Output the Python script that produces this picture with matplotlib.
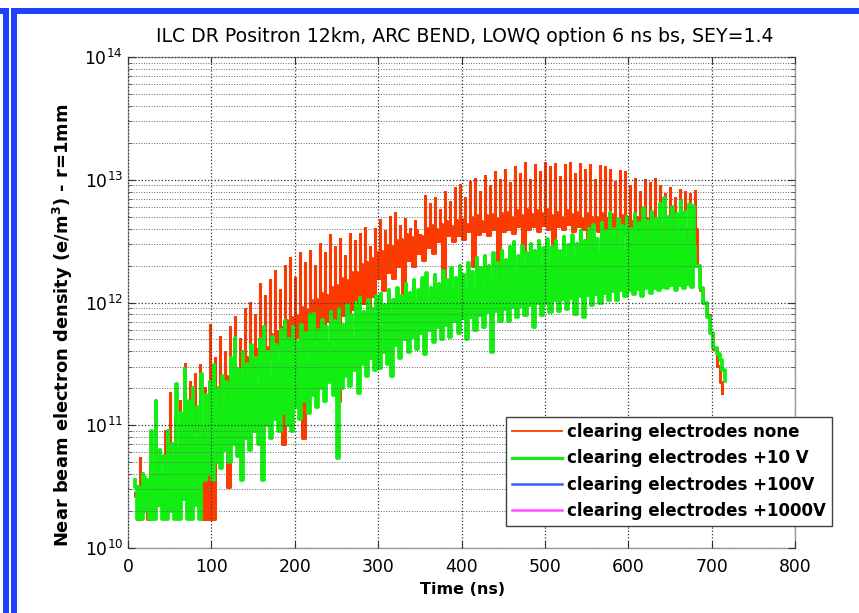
import numpy as np
import matplotlib
matplotlib.use('Agg')
import matplotlib.pyplot as plt
from matplotlib.patches import Rectangle
from matplotlib.ticker import LogLocator, NullFormatter, FixedLocator, FixedFormatter

plt.rcParams['font.family'] = ['DejaVu Sans']
plt.rcParams['mathtext.fontset'] = 'dejavusans'

# ---- data (log10 of density, e/m^3) ----
# each bunch passage: spike top (hi), then the dense band top (mid), then the trough (lo)
# "none": one spike every 6 ns from t=8
red_t0, red_dt = 8, 6
red_hi = [10.45, 10.73, 10.5, 10.68, 10.8, 10.62, 10.95, 11.26, 11.05, 11.2,
          11.5, 11.35, 11.42, 11.49, 11.3, 11.82, 11.55, 11.72, 11.6, 11.8,
          11.88, 11.7, 11.95, 12.0, 11.9, 12.15, 12.05, 12.18, 12.26, 12.1,
          12.3, 12.36, 12.2, 12.4, 12.32, 12.42, 12.3, 12.48, 12.4, 12.55,
          12.45, 12.52, 12.38, 12.56, 12.5, 12.56, 12.61, 12.45, 12.6, 12.67,
          12.58, 12.7, 12.73, 12.62, 12.68, 12.6, 12.66, 12.55, 12.87, 12.8,
          12.85, 12.75, 12.9, 12.82, 12.93, 12.96, 12.85, 12.98, 13.01, 12.9,
          13.03, 12.95, 13.06, 13.0, 13.08, 12.97, 13.1, 13.05, 13.14, 13.0,
          13.12, 13.06, 13.14, 13.1, 13.13, 13.02, 13.12, 13.14, 13.05, 13.13,
          13.08, 13.12, 13.0, 13.11, 13.1, 13.08, 12.98, 13.07, 13.06, 12.95,
          13.01, 12.9, 13.0, 12.97, 13.01, 12.95, 12.88, 12.93, 12.85, 12.92,
          12.9, 12.88, 12.91]
red_mid = [10.42, 10.5, 10.46, 10.6, 10.55, 10.62, 10.72, 10.82, 10.8, 10.95,
           10.88, 11.02, 11.05, 10.98, 11.15, 11.27, 11.3, 11.24, 11.4, 11.42,
           11.47, 11.5, 11.56, 11.55, 11.62, 11.66, 11.64, 11.74, 11.77, 11.8,
           11.86, 11.88, 11.9, 11.96, 11.95, 12.02, 12.03, 12.08, 12.06, 12.13,
           12.14, 12.2, 12.18, 12.25, 12.25, 12.31, 12.33, 12.36, 12.41, 12.42,
           12.47, 12.46, 12.51, 12.52, 12.56, 12.53, 12.59, 12.54, 12.61, 12.63,
           12.6, 12.64, 12.66, 12.62, 12.67, 12.68, 12.64, 12.7, 12.71, 12.66,
           12.71, 12.72, 12.69, 12.73, 12.74, 12.7, 12.75, 12.71, 12.76, 12.72,
           12.75, 12.73, 12.76, 12.71, 12.74, 12.7, 12.75, 12.72, 12.74, 12.69,
           12.73, 12.7, 12.7, 12.73, 12.69, 12.72, 12.67, 12.71, 12.69, 12.66,
           12.7, 12.65, 12.69, 12.64, 12.68, 12.63, 12.62, 12.66, 12.59, 12.64,
           12.6, 12.63, 12.6]
red_lo = [10.24, 10.4, 10.24, 10.5, 10.35, 10.6, 10.45, 10.7, 10.55, 10.85,
          10.7, 10.95, 10.8, 10.24, 10.24, 10.24, 11.1, 11.2, 10.5, 11.3,
          11.35, 11.25, 11.45, 11.4, 11.5, 11.45, 11.55, 11.5, 11.65, 10.85,
          11.7, 11.6, 11.72, 10.9, 11.75, 11.7, 11.8, 11.75, 11.85, 11.8,
          11.2, 11.9, 11.85, 11.95, 11.9, 12.0, 11.6, 12.05, 12.2, 12.1,
          12.25, 12.2, 12.3, 11.9, 12.35, 12.3, 12.4, 12.35, 12.45, 12.4,
          12.5, 12.05, 12.55, 12.5, 12.55, 12.52, 12.58, 12.3, 12.56, 12.58,
          12.55, 12.6, 12.2, 12.58, 12.6, 12.57, 12.62, 12.4, 12.6, 12.62,
          12.58, 12.63, 12.6, 12.45, 12.62, 12.6, 12.64, 12.58, 12.62, 12.6,
          12.35, 12.62, 12.58, 12.6, 12.56, 12.58, 12.4, 12.56, 12.55, 12.52,
          12.5, 12.54, 12.48, 12.38, 12.5, 12.45, 12.48, 12.42, 12.37, 12.44,
          12.4, 12.38, 12.3]
red_tail_t = [686, 690, 694, 698, 702, 706, 710, 713]
red_tail = [12.1, 12.0, 11.9, 11.75, 11.62, 11.48, 11.35, 11.26]

# "+10 V": one spike every 5 ns from t=8
grn_t0, grn_dt = 8, 5
grn_hi = [10.55, 10.5, 10.6, 10.55, 10.95, 11.2, 10.8, 10.75, 10.95, 10.85,
          11.34, 11.1, 11.46, 11.2, 11.3, 11.15, 11.42, 11.25, 11.35, 11.49,
          11.3, 11.4, 11.35, 11.55, 11.71, 11.45, 11.6, 11.5, 11.65, 11.55,
          11.7, 11.8, 11.6, 11.72, 11.65, 11.78, 11.85, 11.7, 11.8, 11.68,
          11.82, 11.75, 11.9, 11.91, 11.78, 11.86, 11.8, 11.92, 11.85, 11.95,
          11.82, 11.98, 11.9, 12.0, 12.04, 11.92, 12.02, 11.95, 12.05, 12.07,
          11.98, 12.1, 12.02, 12.12, 12.05, 12.15, 12.08, 12.18, 12.1, 12.2,
          12.24, 12.12, 12.22, 12.15, 12.26, 12.18, 12.28, 12.2, 12.3, 12.22,
          12.32, 12.25, 12.36, 12.28, 12.38, 12.3, 12.4, 12.32, 12.42, 12.35,
          12.45, 12.49, 12.38, 12.46, 12.4, 12.48, 12.42, 12.5, 12.44, 12.52,
          12.45, 12.5, 12.42, 12.53, 12.47, 12.55, 12.48, 12.58, 12.5, 12.6,
          12.63, 12.52, 12.65, 12.58, 12.73, 12.6, 12.68, 12.62, 12.7, 12.6,
          12.72, 12.65, 12.77, 12.66, 12.74, 12.68, 12.8, 12.85, 12.7, 12.78,
          12.72, 12.83, 12.74, 12.8, 12.79]
grn_mid = [10.5, 10.48, 10.58, 10.52, 10.62, 10.66, 10.6, 10.7, 10.74, 10.68,
           10.8, 10.86, 10.82, 10.92, 10.88, 10.96, 10.9, 11.02, 11.06, 11.1,
           11.07, 11.16, 11.18, 11.22, 11.26, 11.22, 11.3, 11.28, 11.36, 11.32,
           11.4, 11.44, 11.38, 11.46, 11.5, 11.45, 11.52, 11.54, 11.48, 11.56,
           11.58, 11.53, 11.62, 11.63, 11.58, 11.66, 11.67, 11.63, 11.7, 11.67,
           11.73, 11.76, 11.71, 11.78, 11.8, 11.75, 11.82, 11.84, 11.83, 11.87,
           11.86, 11.9, 11.86, 11.92, 11.91, 11.94, 11.95, 11.97, 11.95, 12.0,
           12.02, 11.98, 12.04, 12.04, 12.07, 12.03, 12.09, 12.09, 12.12, 12.08,
           12.14, 12.13, 12.17, 12.13, 12.19, 12.18, 12.22, 12.18, 12.24, 12.21,
           12.25, 12.26, 12.24, 12.28, 12.26, 12.3, 12.27, 12.31, 12.3, 12.33,
           12.31, 12.34, 12.31, 12.35, 12.34, 12.36, 12.34, 12.38, 12.35, 12.39,
           12.38, 12.4, 12.41, 12.38, 12.43, 12.41, 12.44, 12.42, 12.45, 12.41,
           12.45, 12.43, 12.47, 12.44, 12.46, 12.45, 12.48, 12.47, 12.45, 12.48,
           12.44, 12.47, 12.45, 12.47, 12.46]
grn_lo = [10.24, 10.24, 10.3, 10.24, 10.24, 10.35, 10.24, 10.24, 10.3, 10.24,
          10.24, 10.4, 10.24, 10.24, 10.35, 10.24, 10.55, 10.6, 10.55, 10.7,
          10.65, 10.8, 10.7, 10.85, 10.75, 10.55, 10.9, 10.8, 10.95, 10.85,
          10.55, 11.0, 10.9, 11.05, 10.95, 11.1, 11.0, 10.95, 11.15, 11.05,
          11.2, 11.1, 11.25, 11.15, 11.3, 11.2, 11.35, 11.25, 10.73, 11.3,
          11.4, 11.32, 11.45, 11.26, 11.5, 11.4, 11.55, 11.45, 11.47, 11.6,
          11.5, 11.4, 11.65, 11.55, 11.7, 11.6, 11.72, 11.62, 11.75, 11.58,
          11.78, 11.68, 11.8, 11.7, 11.82, 11.72, 11.85, 11.75, 11.87, 11.7,
          11.88, 11.78, 11.9, 11.8, 11.92, 11.6, 11.93, 11.85, 11.95, 11.85,
          11.96, 11.88, 11.97, 11.9, 11.98, 11.8, 12.0, 11.9, 12.0, 11.92,
          12.02, 11.93, 12.03, 11.95, 12.04, 11.91, 12.05, 11.88, 12.06, 11.98,
          12.07, 12.0, 12.08, 12.02, 12.09, 12.02, 12.1, 12.05, 12.1, 12.07,
          12.11, 12.05, 12.12, 12.08, 12.12, 12.1, 12.13, 12.12, 12.14, 12.1,
          12.14, 12.12, 12.15, 12.13, 12.3]
grn_tail_t = [686, 690, 694, 698, 702, 706, 710, 713, 716]
grn_tail = [12.12, 12.0, 11.88, 11.75, 11.63, 11.58, 11.53, 11.45, 11.36]

labels = ['clearing electrodes none', 'clearing electrodes +10 V',
          'clearing electrodes +100V', 'clearing electrodes +1000V']
colors = ['#ff3a00', '#12ee12', '#3a5cff', '#ff4cff']


def spikes(t0, dt, hi, mid, lo, tail_t, tail, w_hi, w_mid):
    # step trace: top for w_hi ns, band top for w_mid ns, trough until next bunch
    n = len(hi)
    t_hi = t0 + dt * np.arange(n)
    t = np.empty(3 * n)
    v = np.empty(3 * n)
    t[0::3] = t_hi
    t[1::3] = t_hi + w_hi
    t[2::3] = t_hi + w_hi + w_mid
    v[0::3] = hi
    v[1::3] = mid
    v[2::3] = lo
    t = np.concatenate([t, tail_t])
    v = np.concatenate([v, tail])
    return t, 10 ** v


W, H = 859, 613
fig = plt.figure(figsize=(W / 100, H / 100), dpi=100)
fig.patch.set_facecolor('white')

# blue frame at top/left of the screenshot
blue = '#1e40ff'
for (x0, y0, w, h) in [(3, 8, 6, H), (11, 8, 6, H), (11, 8, W, 6), (0, 8, 9, 6)]:
    fig.patches.append(Rectangle((x0 / W, 1 - (y0 + h) / H), w / W, h / H,
                                 transform=fig.transFigure, color=blue, lw=0))

ax = fig.add_axes([128 / W, 1 - 548 / H, (795 - 128) / W, (548 - 57) / H])

t, v = spikes(red_t0, red_dt, red_hi, red_mid, red_lo, red_tail_t, red_tail, 0.5, 2.5)
ax.plot(t, v, color=colors[0], lw=2.2, drawstyle='steps-post', label=labels[0])
t, v = spikes(grn_t0, grn_dt, grn_hi, grn_mid, grn_lo, grn_tail_t, grn_tail, 0.5, 2.0)
ax.plot(t, v, color=colors[1], lw=2.7, drawstyle='steps-post', label=labels[1])
ax.plot([], [], color=colors[2], lw=1.6, label=labels[2])
ax.plot([], [], color=colors[3], lw=1.6, label=labels[3])

ax.set_yscale('log')
ax.set_xlim(0, 800)
ax.set_ylim(1e10, 1e14)
ax.xaxis.set_major_locator(FixedLocator(range(0, 801, 100)))
ax.yaxis.set_major_locator(FixedLocator([1e10, 1e11, 1e12, 1e13, 1e14]))
ax.yaxis.set_major_formatter(FixedFormatter([r'$10^{10}$', r'$10^{11}$', r'$10^{12}$',
                                             r'$10^{13}$', r'$10^{14}$']))
ax.yaxis.set_minor_locator(LogLocator(base=10, subs=range(2, 10)))
ax.yaxis.set_minor_formatter(NullFormatter())

ax.tick_params(which='both', direction='in', top=True, right=True, labelsize=12.4)
ax.tick_params(which='major', length=5, width=0.8, color='0.2')
ax.tick_params(which='minor', length=3, width=0.6, color='0.3')
ax.tick_params(axis='x', pad=7)
for s in ax.spines.values():
    s.set_color('0.6')
    s.set_linewidth(1.0)

ax.grid(which='major', ls=':', color='0.2', lw=0.9)
ax.grid(which='minor', axis='y', ls=':', color='0.4', lw=0.7)
ax.set_axisbelow(False)

fig.text(465 / W, 1 - 37 / H, 'ILC DR Positron 12km, ARC BEND, LOWQ option 6 ns bs, SEY=1.4',
         ha='center', va='center', fontsize=13.6)
fig.text(463 / W, 1 - 589 / H, 'Time (ns)', ha='center', va='center',
         fontsize=11.5, fontweight='bold')
fig.text(63 / W, 1 - 325 / H, r'Near beam electron density (e/m$^\mathbf{3}$) - r=1mm',
         ha='center', va='center', rotation=90, fontsize=12.9, fontweight='bold')

leg = ax.legend(loc='lower left', bbox_to_anchor=(506 / W, 1 - 526 / H),
                bbox_transform=fig.transFigure, fancybox=False, framealpha=1,
                edgecolor='0.25', prop={'weight': 'bold', 'size': 12},
                handlelength=3.0, handletextpad=0.3, labelspacing=0.5,
                borderpad=0.35, borderaxespad=0)
leg.get_frame().set_linewidth(1.0)
for line, lw in zip(leg.get_lines(), [1.3, 2.3, 1.8, 1.8]):
    line.set_linewidth(lw)
    line.set_drawstyle('default')

fig.savefig('out.png', dpi=100)
